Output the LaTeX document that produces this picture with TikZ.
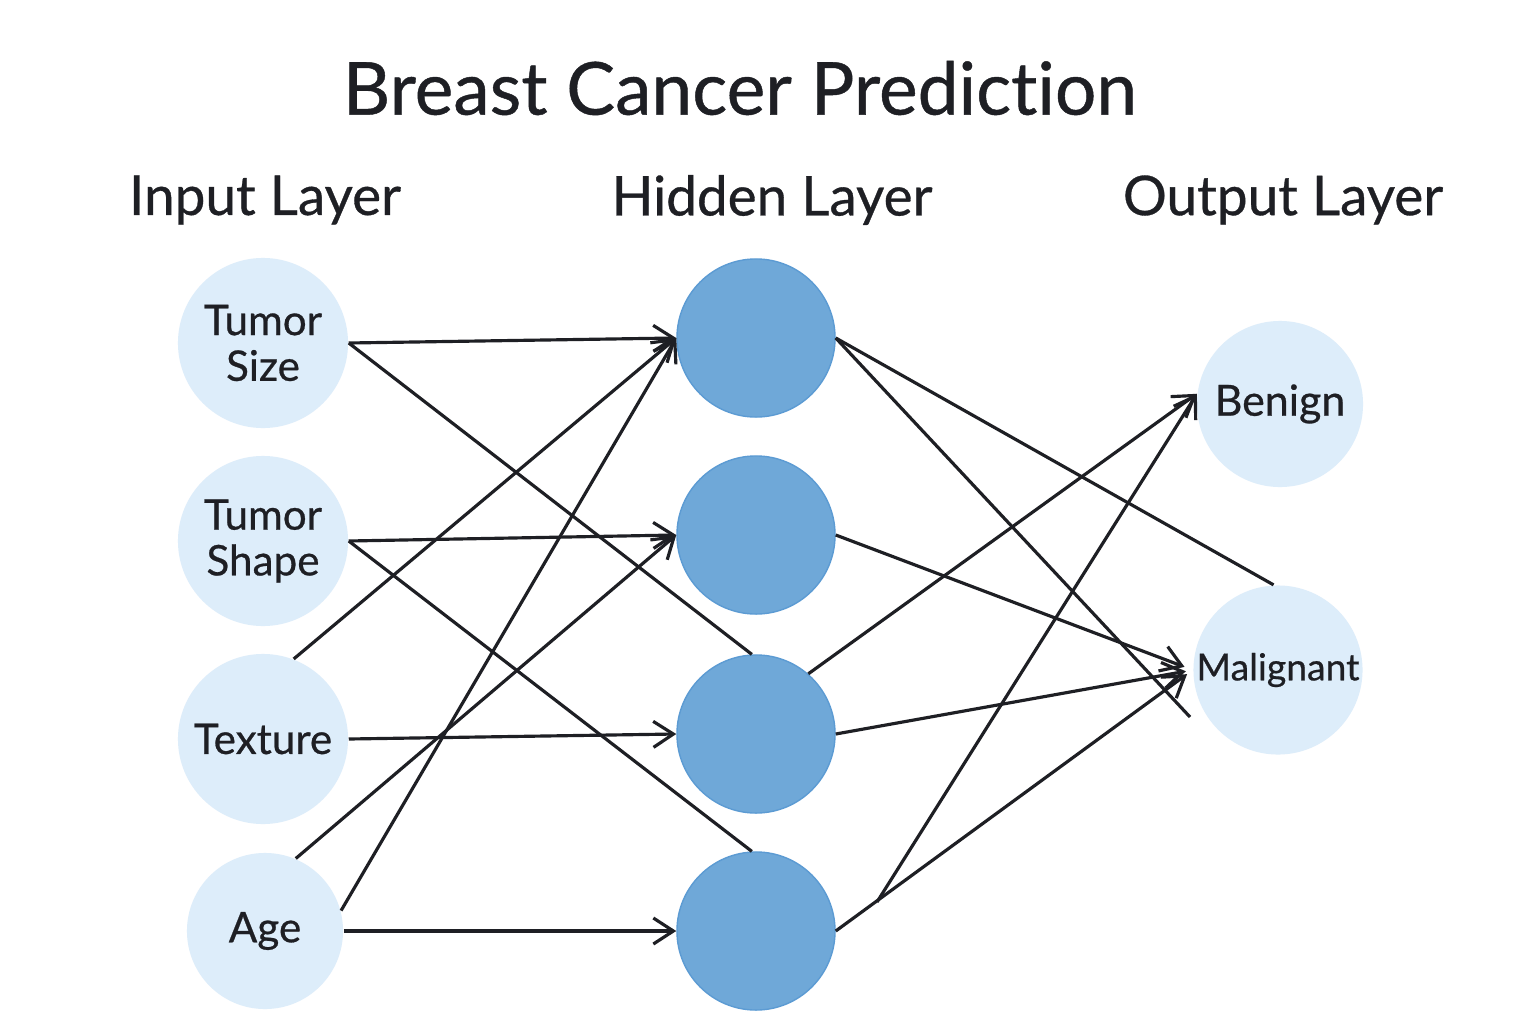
\documentclass[tikz,border=0pt]{standalone}
\usepackage{fontspec}
\setmainfont{Lato}[Ligatures=NoCommon, FakeBold=0.6]
\usepackage{tikz}
\usetikzlibrary{arrows.meta,positioning}
\definecolor{inputblue}{HTML}{DDEDFA}
\definecolor{hiddenblue}{HTML}{6FA8D8}
\definecolor{hiddenedge}{HTML}{5C9BD3}
\definecolor{inkdark}{HTML}{1E1F24}

\begin{document}
\begin{tikzpicture}[
		x=0.01cm, y=-0.01cm,
		>={Straight Barb[length=2mm,width=2.6mm]},
		font=\normalfont,
		inputnode/.style={
			circle,
			fill=inputblue,
			text=inkdark,
			align=center,
			inner sep=0pt,
			minimum size=1.7cm,
			font=\fontsize{12}{14}\selectfont
		},
		hiddennode/.style={
			circle,
			fill=hiddenblue,
			draw=hiddenedge,
			line width=0.4pt,
			minimum size=1.58cm
		},
		outputnode/.style={
			circle,
			fill=inputblue,
			text=inkdark,
			inner sep=0pt,
			minimum size=1.66cm,
			font=\fontsize{10.6}{13}\selectfont
		},
		layertitle/.style={
			text=inkdark,
			font=\fontsize{15.6}{18}\selectfont
		},
		link/.style={
			draw=inkdark,
			line width=0.9pt
		}
		]
		\useasboundingbox[fill=white] (0,0) rectangle (1536,1024);
		
		% Titles
		\node [text=inkdark, font=\fontsize{20.8}{24}\selectfont] (title) at (740,88) {Breast Cancer Prediction};
		\node [layertitle] (inlayer) at (265,200) {Input Layer};
		\node [layertitle] (hidlayer) at (772,200) {Hidden Layer};
		\node [layertitle] (outlayer) at (1283,200) {Output Layer};
		
		% Input layer
		\node [inputnode] (tsize) at (263,343) {Tumor\\[-1pt]Size};
		\node [inputnode] (tshape) at (263,541) {Tumor\\[-1pt]Shape};
		\node [inputnode] (texture) at (263,739) {Texture};
		\node [inputnode, minimum size=1.56cm] (age) at (265,931) {Age};
		
		% Hidden layer
		\node [hiddennode] (h1) at (756,338) {};
		\node [hiddennode] (h2) at (756,535) {};
		\node [hiddennode] (h3) at (756,734) {};
		\node [hiddennode] (h4) at (756,931) {};
		
		% Output layer
		\node [outputnode, font=\fontsize{12.2}{14}\selectfont] (benign) at (1280,404) {Benign};
		\node [outputnode, minimum size=1.69cm] (malignant) at (1278,670) {Malignant};
		
		\coordinate (loose) at (1190,717);
		\coordinate (branch) at (877,902);
		
		% Input to hidden
		\draw [link,->] (tsize.east) -- (h1.west);
		\draw [link] (tsize.east) -- (h3.93);
		\draw [link,->] (tshape.east) -- (h2.west);
		\draw [link] (tshape.east) -- (h4.93);
		\draw [link,->] (texture.69) -- (h1.west);
		\draw [link,->] (texture.east) -- (h3.west);
		\draw [link,->] (age.67) -- (h2.west);
		\draw [link,->] (age.15) -- (h1.west);
		\draw [link,->] (age.east) -- (h4.west);
		
		% Hidden to output
		\draw [link] (h1.east) -- (malignant.93);
		\draw [link] (h1.east) -- (loose);
		\draw [link,->, shorten >=2.5pt] (h2.east) -- (malignant.west);
		\draw [link,->] (h3.49) -- (benign.173);
		\draw [link,->, shorten >=2pt] (h3.east) -- (malignant.west);
		\draw [link,->, shorten >=2pt] (h4.east) -- (malignant.west);
		\draw [link,->] (branch) -- (benign.173);
		
		\end{tikzpicture}
\end{document}
